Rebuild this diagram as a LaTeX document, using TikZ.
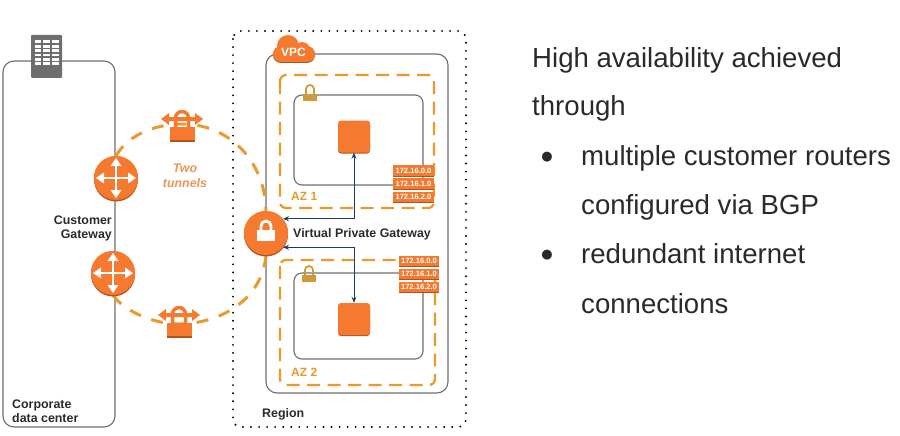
\documentclass[tikz,border=0pt]{standalone}
\usepackage{xcolor}
\usepackage{fontspec}
\usepackage{tikz}
\usetikzlibrary{arrows.meta, positioning}
\setmainfont{Liberation Sans}
\newfontfamily\symfont{DejaVu Sans}
\definecolor{awsorange}{HTML}{F5792F}
\definecolor{awsdark}{HTML}{B3541E}
\definecolor{dashorange}{HTML}{E99A2B}
\definecolor{lockgold}{HTML}{CF9A3C}
\definecolor{boxgray}{HTML}{6E6E6E}
\definecolor{linkblue}{HTML}{1F3B66}
\definecolor{inktext}{HTML}{2A2A2A}
\definecolor{tunneltext}{HTML}{E8955A}
\tikzset{
  framebox/.style={draw=boxgray, line width=1.1pt, rounded corners=11pt},
  subnetbox/.style={draw=boxgray, line width=1.1pt, rounded corners=8pt},
  azbox/.style={draw=dashorange, line width=2.3pt, rounded corners=6pt, dash pattern=on 13pt off 7.5pt},
  tunnelline/.style={draw=dashorange, line width=3pt, dash pattern=on 12pt off 11pt},
  roundicon/.style={circle, fill=awsorange, draw=none, minimum size=44pt, inner sep=0pt},
  instancebox/.style={rectangle, rounded corners=3pt, fill=awsorange, minimum size=32pt, inner sep=0pt},
  iplabel/.style={rectangle, fill=awsorange, text=white, font=\bfseries\fontsize{7.6}{9}\selectfont, minimum width=41pt, minimum height=10.5pt, inner sep=0pt},
  smalltext/.style={text=inktext, font=\bfseries\fontsize{12.4}{14}\selectfont, inner sep=0pt},
  sidetext/.style={text=inktext, font=\fontsize{27.6}{30}\selectfont, anchor=base west, inner sep=0pt},
  azlabel/.style={text=dashorange, font=\bfseries\fontsize{12}{14}\selectfont, anchor=base west, inner sep=0pt},
  pics/crossarrows/.style={code={
    \foreach \a in {0,90,180,270} {
      \draw[white, line width=2.6pt, rotate=\a] (0,0) -- (14,0);
      \fill[white, rotate=\a] (20,0) -- (12,-5.5) -- (12,5.5) -- cycle;
    }
  }},
  pics/tunnellock/.style={code={
    \draw[awsorange, line width=3.5pt] (-6.5,8) -- (-6.5,-1) arc[start angle=180, end angle=360, radius=6.5] -- (6.5,8);
    \fill[awsorange] (-12.5,8) rectangle (13,22);
    \fill[awsdark] (-12.5,21) rectangle (13,23);
    \fill[awsorange] (-21,0) -- (-13,-6) -- (-13,-2) -- (13,-2) -- (13,-6) -- (21,0) -- (13,6) -- (13,2) -- (-13,2) -- (-13,6) -- cycle;
  }},
  pics/smalllock/.style={code={
    \draw[lockgold, line width=1.8pt] (-4,1) -- (-4,-5) arc[start angle=180, end angle=360, radius=4] -- (4,1);
    \fill[lockgold] (-7,0) rectangle (7,7);
  }}
}

\begin{document}
\begin{tikzpicture}[x=1pt, y=-1pt, >={Stealth[length=6pt, width=5pt]}]
  \useasboundingbox (0,0) rectangle (900,436);
  % Frames
  \draw[framebox] (3,61) rectangle (115,427);
  \draw[black, line width=2.1pt, line cap=round, dash pattern=on 0pt off 8.05pt, rounded corners=8pt] (233,31) rectangle (466,427);
  \draw[framebox] (266,54) rectangle (448,393);
  \draw[azbox] (280,75) rectangle (434,208);
  \draw[azbox] (280,260) rectangle (435,385);
  \draw[subnetbox] (294,95) rectangle (423,185);
  \draw[subnetbox] (294,273) rectangle (423,359);

  % Building
  \fill[boxgray, rounded corners=1pt] (31,35) rectangle (62,78);
  \foreach \r in {0,1,2,3,4,5} {
    \foreach \c in {34.5,43,52} {
      \fill[white] (\c,40.5+\r*4.4) rectangle ++(6.5,2.7);
    }
  }

  % Gateways
  \node[roundicon] (routerA) at (116,178) {};
  \node[roundicon] (routerB) at (113,273) {};
  \node[roundicon] (vgw) at (266,233) {};
  \coordinate (tunnelA) at (182,119);
  \coordinate (tunnelB) at (179,315);

  % Tunnels
  \draw[tunnelline] (routerA.north) .. controls (130,132) and (160,124) .. (182,124) .. controls (228,124) and (265,160) .. (vgw.north);
  \draw[tunnelline] (routerB.south) .. controls (125,312) and (155,324) .. (178,324) .. controls (220,324) and (262,300) .. (vgw.south);
  \pic at (tunnelA) {tunnellock};
  \pic at (tunnelB) {tunnellock};

  % Icons on top
  \fill[awsdark] (116,179.5) circle (22);
  \fill[awsdark] (113,274.5) circle (22);
  \fill[awsdark] (266,234.5) circle (22);
  \node[roundicon] at (routerA) {};
  \node[roundicon] at (routerB) {};
  \node[roundicon] at (vgw) {};
  \pic at (routerA) {crossarrows};
  \pic at (routerB) {crossarrows};
  \draw[white, line width=2.8pt] (261,232) -- (261,226) arc[start angle=180, end angle=360, radius=5] -- (271,232);
  \fill[white] (257,230) rectangle (275,241);

  % VPC
  \fill[awsdark] (281,55) circle (8);
  \fill[awsdark] (307,55) circle (8);
  \fill[awsorange] (288,46) circle (11);
  \fill[awsorange] (302,50) circle (8);
  \fill[awsorange] (281,54) circle (8);
  \fill[awsorange] (307,54) circle (8);
  \fill[awsdark] (281,60) rectangle (307,63);
  \fill[awsorange] (281,46) rectangle (307,62);
  \node[text=white, font=\bfseries\fontsize{12}{14}\selectfont, inner sep=0pt] (vpclabel) at (293.5,52) {VPC};

  % Instances
  \fill[awsdark, rounded corners=3pt] (338,121.5) rectangle (370,153.5);
  \fill[awsdark, rounded corners=3pt] (338,304) rectangle (370,336);
  \node[instancebox] (instanceA) at (354,136.5) {};
  \node[instancebox] (instanceB) at (354,319) {};
  \draw[<->, linkblue, line width=1pt] (vgw.40) -| (instanceA.south);
  \draw[<->, linkblue, line width=1pt] (vgw.-40) -| (instanceB.north);

  % Locks
  \pic at (310,94) {smalllock};
  \pic at (309,275) {smalllock};

  % Addresses
  \foreach \t/\y in {172.16.0.0/170.5, 172.16.1.0/183.5, 172.16.2.0/197} {
    \fill[awsdark] (393,\y+4) rectangle (434,\y+6);
    \node[iplabel] at (413.5,\y) {\t};
  }
  \foreach \t/\y in {172.16.0.0/261, 172.16.1.0/274, 172.16.2.0/287} {
    \fill[awsdark] (399,\y+4) rectangle (439,\y+6);
    \node[iplabel, minimum width=40pt] at (419,\y) {\t};
  }

  % Labels
  \node[smalltext, align=right, anchor=north east] (cgwlabel) at (112,216) {Customer\\Gateway};
  \node[smalltext, align=left, anchor=north west] (dclabel) at (12,400) {Corporate\\data center};
  \node[text=tunneltext, font=\bfseries\itshape\fontsize{12.4}{15}\selectfont, align=center, inner sep=0pt] (twolabel) at (185,176) {Two\\tunnels};
  \node[smalltext, anchor=west] (vgwlabel) at (293,234) {Virtual Private Gateway};
  \node[azlabel] (azA) at (291,200) {AZ 1};
  \node[azlabel] (azB) at (291,376) {AZ 2};
  \node[smalltext, anchor=west] (regionlabel) at (262,414) {Region};

  % Side text
  \node[sidetext] (lineA) at (532,67) {High availability achieved};
  \node[sidetext] (lineB) at (532,115) {through};
  \node[sidetext] (lineC) at (581,165) {multiple customer routers};
  \node[sidetext] (lineD) at (581,214) {configured via BGP};
  \node[sidetext] (lineE) at (581,263) {redundant internet};
  \node[sidetext] (lineF) at (581,313) {connections};
  \node[text=inktext, font=\symfont\fontsize{13}{14}\selectfont, inner sep=0pt] (bulletA) at (547,157) {●};
  \node[text=inktext, font=\symfont\fontsize{13}{14}\selectfont, inner sep=0pt] (bulletB) at (547,255) {●};
\end{tikzpicture}
\end{document}
